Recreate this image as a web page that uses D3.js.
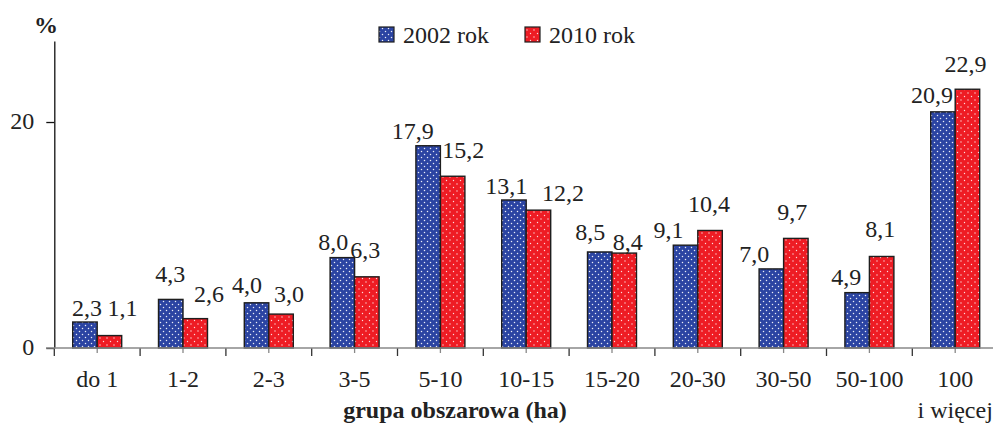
<!DOCTYPE html>
<html lang="pl">
<head>
<meta charset="utf-8">
<title>Grupa obszarowa</title>
<script src="https://cdn.jsdelivr.net/npm/d3@7/dist/d3.min.js"></script>
<style>
  body { margin: 0; background: #fff; }
  text { font-family: "Liberation Serif", "Times New Roman", serif; fill: #222; }
</style>
</head>
<body>
<script>
// data
var categories = ["do 1", "1-2", "2-3", "3-5", "5-10", "10-15", "15-20", "20-30", "30-50", "50-100", "100 i więcej"];
var values2002 = [2.3, 4.3, 4.0, 8.0, 17.9, 13.1, 8.5, 9.1, 7.0, 4.9, 20.9];
var values2010 = [1.1, 2.6, 3.0, 6.3, 15.2, 12.2, 8.4, 10.4, 9.7, 8.1, 22.9];
var seriesNames = ["2002 rok", "2010 rok"];
var yTicks = [0, 20];

// label nudges (px), as placed in the original
var dx2002 = [2, -0.5, -9.6, -9, -15.3, -7.6, -9.4, -17, -17, -10.8, -11];
var gap2002 = [6, 17.6, 9.6, 7.6, 6.4, 6, 12, 6.7, 7.2, 7.6, 8.5];
var dx2010 = [13, 13.7, 8, -1.5, 10.7, 24.5, 3.5, -1, -3.5, -1.3, -2];
var gap2010 = [19.6, 17, 12.3, 18.5, 17.9, 9.3, 3, 18.8, 18.4, 19.8, 17.5];

var w = 993, h = 426;
var x0 = 54.3, bandW = 85.8, barW = 24.5;

var svg = d3.select("body").append("svg")
    .attr("width", w)
    .attr("height", h);

// dotted fills
var defs = svg.append("defs");
var pb = defs.append("pattern").attr("id", "dotBlue")
    .attr("patternUnits", "userSpaceOnUse").attr("width", 6).attr("height", 6);
pb.append("rect").attr("width", 6).attr("height", 6).attr("fill", "#2b44a2");
pb.append("circle").attr("cx", 1.5).attr("cy", 1.5).attr("r", 0.75).attr("fill", "#fff").attr("opacity", 0.9);
pb.append("circle").attr("cx", 4.5).attr("cy", 4.5).attr("r", 0.75).attr("fill", "#fff").attr("opacity", 0.9);

var pr = defs.append("pattern").attr("id", "dotRed")
    .attr("patternUnits", "userSpaceOnUse").attr("width", 7).attr("height", 7);
pr.append("rect").attr("width", 7).attr("height", 7).attr("fill", "#ee1c24");
pr.append("circle").attr("cx", 2).attr("cy", 2).attr("r", 0.7).attr("fill", "#fff").attr("opacity", 0.85);
pr.append("circle").attr("cx", 5.5).attr("cy", 5.5).attr("r", 0.7).attr("fill", "#fff").attr("opacity", 0.85);

var fills = ["url(#dotBlue)", "url(#dotRed)"];

var xScale = d3.scaleBand()
    .domain(categories)
    .range([x0, x0 + bandW * categories.length])
    .padding(0);

var yScale = d3.scaleLinear()
    .domain([0, 27.17])
    .range([348, 41]);

// y axis
var yAxis = d3.axisLeft(yScale).tickValues(yTicks).tickSize(8).tickSizeOuter(0).tickPadding(12);
var gY = svg.append("g")
    .attr("transform", "translate(" + x0 + ",0)")
    .call(yAxis);
gY.select(".domain").attr("stroke", "#111").attr("stroke-width", 1.3);
gY.selectAll(".tick line").attr("stroke", "#111").attr("stroke-width", 1.3);
gY.selectAll(".tick text")
    .attr("font-size", 24)
    .attr("font-family", "Liberation Serif, serif")
    .attr("fill", "#222")
    .attr("dy", "0.28em");

svg.append("text")
    .attr("x", 46).attr("y", 33)
    .attr("text-anchor", "middle")
    .attr("font-size", 24).attr("font-weight", "bold")
    .text("%");

// x axis
var xAxis = d3.axisBottom(xScale).tickSize(5).tickSizeOuter(0).tickFormat("");
var gX = svg.append("g")
    .attr("transform", "translate(0," + yScale(0) + ")")
    .call(xAxis);
gX.select(".domain").remove();
gX.selectAll(".tick line").attr("stroke", "#888").attr("stroke-width", 1.3);

// category boundary ticks
gX.selectAll("line.bound")
    .data(categories)
    .enter().append("line")
    .attr("class", "bound")
    .attr("x1", function(d) { return xScale(d); })
    .attr("x2", function(d) { return xScale(d); })
    .attr("y1", 0).attr("y2", 8)
    .attr("stroke", "#333").attr("stroke-width", 1.3);

// category labels
var catLabels = svg.append("g").selectAll("text")
    .data(categories)
    .enter().append("text")
    .attr("text-anchor", "middle")
    .attr("font-size", 24)
    .attr("x", function(d) { return xScale(d) + xScale.bandwidth() / 2; })
    .attr("y", 387);
catLabels.each(function(d) {
    var t = d3.select(this);
    var parts = d === "100 i więcej" ? ["100", "i więcej"] : [d];
    parts.forEach(function(p, i) {
        t.append("tspan")
            .attr("x", xScale(d) + xScale.bandwidth() / 2)
            .attr("dy", i === 0 ? 0 : 31)
            .text(p);
    });
});

svg.append("text")
    .attr("x", 455).attr("y", 418)
    .attr("text-anchor", "middle")
    .attr("font-size", 24).attr("font-weight", "bold")
    .text("grupa obszarowa (ha)");

// bars
var series = [values2002, values2010];
var dxs = [dx2002, dx2010];
var gaps = [gap2002, gap2010];

series.forEach(function(vals, s) {
    var g = svg.append("g");
    var barX = function(d, i) {
        var c = xScale(categories[i]) + xScale.bandwidth() / 2;
        return s === 0 ? c - barW : c;
    };
    g.selectAll("rect")
        .data(vals)
        .enter().append("rect")
        .attr("x", barX)
        .attr("y", function(d) { return yScale(d); })
        .attr("width", barW)
        .attr("height", function(d) { return yScale(0) - yScale(d); })
        .attr("fill", fills[s])
        .attr("stroke", "#1e1e1e")
        .attr("stroke-width", 1.4);

    g.selectAll("text")
        .data(vals)
        .enter().append("text")
        .attr("text-anchor", "middle")
        .attr("font-size", 24)
        .attr("x", function(d, i) { return barX(d, i) + barW / 2 + dxs[s][i]; })
        .attr("y", function(d, i) { return yScale(d) - gaps[s][i]; })
        .text(function(d) { return d3.format(".1f")(d).replace(".", ","); });
});

// x axis line on top of bar bottoms
svg.append("line")
    .attr("x1", 46).attr("x2", w)
    .attr("y1", yScale(0)).attr("y2", yScale(0))
    .attr("stroke", "#888").attr("stroke-width", 1.5);

// legend
var legend = svg.append("g");
var legX = [379, 525];
seriesNames.forEach(function(name, i) {
    legend.append("rect")
        .attr("x", legX[i]).attr("y", 27)
        .attr("width", 15).attr("height", 15)
        .attr("fill", fills[i])
        .attr("stroke", "#1e1e1e").attr("stroke-width", 1.2);
    legend.append("text")
        .attr("x", legX[i] + 24).attr("y", 43)
        .attr("font-size", 24)
        .text(name);
});
</script>
</body>
</html>
